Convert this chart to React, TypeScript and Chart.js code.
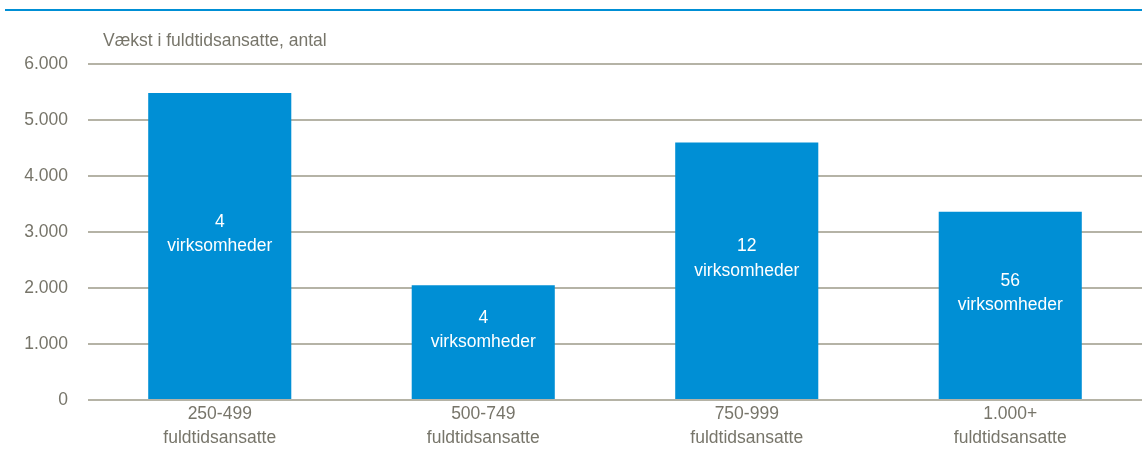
import React, { useEffect, useRef } from "react";
import { Chart, registerables } from "chart.js";

Chart.register(...registerables);

const categories: string[][] = [
  ["250-499", "fuldtidsansatte"],
  ["500-749", "fuldtidsansatte"],
  ["750-999", "fuldtidsansatte"],
  ["1.000+", "fuldtidsansatte"],
];
const growthValues: number[] = [5480, 2050, 4600, 3360];
const barLabels: string[][] = [
  ["4", "virksomheder"],
  ["4", "virksomheder"],
  ["12", "virksomheder"],
  ["56", "virksomheder"],
];
const yTicks: number[] = [0, 1000, 2000, 3000, 4000, 5000, 6000];
const axisTitle = "Vækst i fuldtidsansatte, antal";

const FONT = "'Liberation Sans', Arial, sans-serif";
const FS = 17.5;
const TEXT = "#77756a";
const GRID = "#b5b3a6";
const BAR = "#008fd5";

const fmt = (v: number) => v.toLocaleString("de-DE");

const overlayPlugin = {
  id: "overlay",
  afterDatasetsDraw(chart: any) {
    const ctx = chart.ctx;
    const meta = chart.getDatasetMeta(0);
    ctx.save();
    ctx.font = `${FS}px ${FONT}`;
    ctx.fillStyle = "#ffffff";
    ctx.textAlign = "center";
    ctx.textBaseline = "middle";
    meta.data.forEach((bar: any, i: number) => {
      const lines = barLabels[i];
      const mid = (bar.y + bar.base) / 2 - 12;
      const lh = 24.5;
      const start = mid - ((lines.length - 1) * lh) / 2;
      lines.forEach((t, j) => ctx.fillText(t, bar.x, start + j * lh));
    });
    // axis title
    ctx.fillStyle = TEXT;
    ctx.textAlign = "left";
    ctx.textBaseline = "middle";
    ctx.fillText(axisTitle, chart.chartArea.left + 15, 41);
    // top blue rule
    ctx.fillStyle = BAR;
    ctx.fillRect(5, 9, chart.width - 5, 2);
    ctx.restore();
  },
};

export default function App() {
  const ref = useRef<HTMLCanvasElement>(null);
  useEffect(() => {
    if (!ref.current) return;
    const chart = new Chart(ref.current, {
      type: "bar",
      data: {
        labels: categories,
        datasets: [
          {
            data: growthValues,
            backgroundColor: BAR,
            categoryPercentage: 1,
            barPercentage: 0.543,
          },
        ],
      },
      options: {
        animation: false,
        responsive: false,
        maintainAspectRatio: false,
        layout: { padding: { top: 64, right: 0, left: 0, bottom: 0 } },
        plugins: { legend: { display: false }, tooltip: { enabled: false } },
        scales: {
          x: {
            grid: { display: false, drawTicks: false },
            border: { display: false },
            ticks: {
              color: TEXT,
              font: { family: FONT, size: FS, lineHeight: 1.38 },
              padding: 2,
              maxRotation: 0,
            },
            afterFit: (s: any) => {
              s.height = 75;
            },
          },
          y: {
            min: 0,
            max: 6000,
            afterBuildTicks: (s: any) => {
              s.ticks = yTicks.map((v) => ({ value: v }));
            },
            grid: { color: GRID, lineWidth: 2, drawTicks: false },
            border: { display: false },
            ticks: {
              color: TEXT,
              font: { family: FONT, size: FS },
              padding: 20,
              callback: (v: any) => fmt(Number(v)),
            },
            afterFit: (s: any) => {
              s.width = 88;
            },
          },
        },
      },
      plugins: [overlayPlugin],
    });
    return () => chart.destroy();
  }, []);
  return (
    <div style={{ position: "fixed", left: 0, top: 0, width: 1142, height: 475, background: "#fff" }}>
      <canvas ref={ref} width={1142} height={475} />
    </div>
  );
}
